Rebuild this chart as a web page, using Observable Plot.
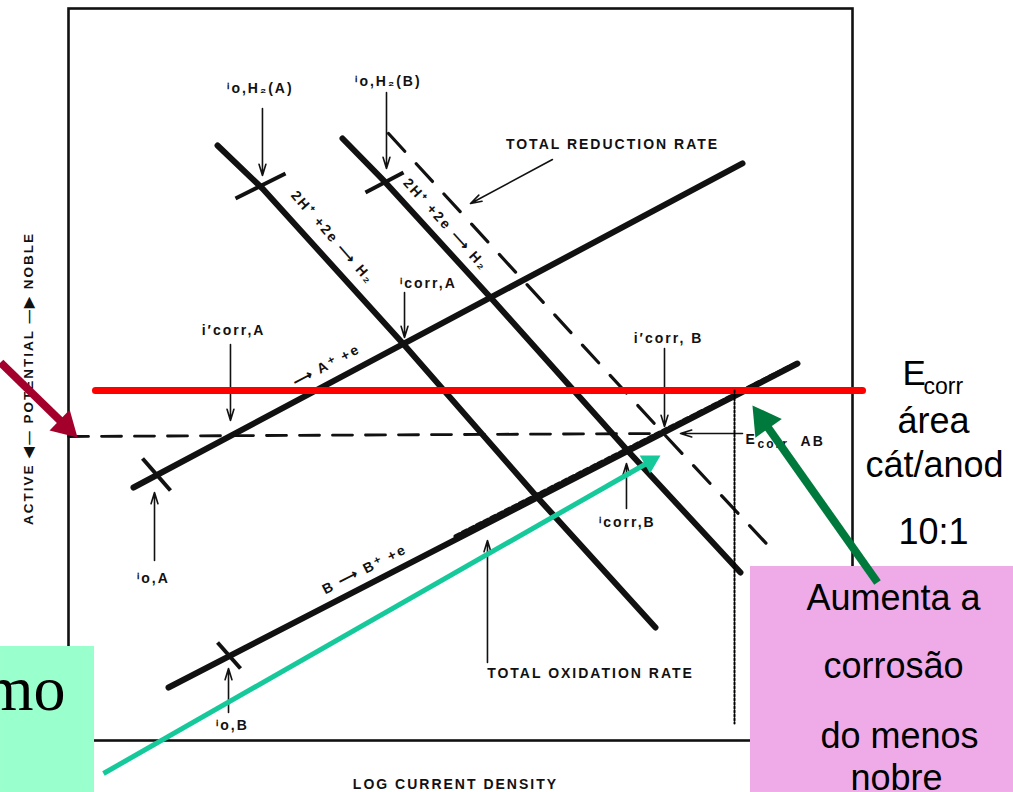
<!DOCTYPE html>
<html><head><meta charset="utf-8">
<script src="https://cdn.jsdelivr.net/npm/d3@7"></script>
<script src="https://cdn.jsdelivr.net/npm/@observablehq/plot@0.6"></script>
<style>
html,body{margin:0;padding:0;background:#fff;}
</style></head><body><div id="chart"></div>
<script>
// ---------- data: x = log current density (decades across the frame), y = potential (arbitrary units) ----------
const h2OnA    = [[1.901,8.128],[2.474,7.541],[4.260,5.430],[5.982,3.320],[7.487,1.544]];
const h2OnB    = [[3.495,8.224],[4.031,7.637],[5.383,6.052],[7.130,3.962],[8.571,2.295]];
const oxA      = [[0.829,3.456],[8.597,7.883]];
const oxB      = [[1.276,0.724],[9.298,5.150]];
const totalRed = [[4.082,8.292],[7.589,4.194],[9.043,2.527]];
const totalOx  = [[4.936,2.790],[9.298,5.164]];
const ecorrAB  = [[0,4.153],[7.589,4.194]];
const ioTicks  = [[[2.130,7.404],[2.768,7.746]],[[3.788,7.486],[4.273,7.760]],[[0.944,3.852],[1.301,3.415]],[[1.901,1.339],[2.194,0.984]]];

const pointerFrom = [[2.474,8.634],[4.056,8.852],[4.286,6.120],[2.066,5.410],[6.173,7.937],[7.602,5.355],[8.597,4.194],[7.117,3.169],[1.097,2.459],[2.041,0.383],[5.344,1.066]];
const pointerTo   = [[2.474,7.719],[4.056,7.814],[4.286,5.505],[2.066,4.372],[5.128,7.336],[7.602,4.290],[7.806,4.194],[7.117,3.784],[1.097,3.388],[2.041,0.984],[5.344,2.732]];

const figLabels = ["ⁱo,H₂(A)","ⁱo,H₂(B)","ⁱcorr,A","i′corr,A","TOTAL REDUCTION RATE","i′corr, B","ⁱcorr,B","ⁱo,A","ⁱo,B","TOTAL OXIDATION RATE","LOG CURRENT DENSITY"];
const figLabelX = [2.449,4.082,4.592,2.105,6.939,7.653,7.130,1.084,2.092,6.658,4.936];
const figLabelY = [8.839,8.948,6.175,5.533,8.087,5.437,2.910,2.145,0.137,0.847,-0.656];

const reactionText  = ["2H⁺ +2e ⟶ H₂","2H⁺ +2e ⟶ H₂","⟶ A⁺ +e","B ⟶ B⁺ +e"];
const reactionX     = [3.367,4.809,3.291,3.776];
const reactionY     = [6.872,7.049,5.123,2.336];
const reactionAngle = [49,48,-28,-27];

const axisCaption = ["ACTIVE ◀— POTENTIAL —▶ NOBLE"];
const axisCaptionPos = [-0.510,4.945];

const ecorrText = ["E","corr","AB"];
const ecorrTextX = [8.635,8.788,9.337];
const ecorrTextY = [4.057,3.990,4.030];

// overlay annotations
const ecorrAreaLine = [[0.344,4.781],[10.128,4.781]];
const dottedLine    = [[8.495,4.781],[8.495,0.232]];
const darkRedArrow  = [[-0.867,5.164],[0.115,4.139]];
const tealArrow     = [[0.446,-0.451],[7.551,3.893]];
const greenArrow    = [[10.319,2.158],[8.724,4.577]];
const mintBox = [{x1:-0.867,x2:0.332,y1:-0.710,y2:1.284}];
const pinkBox = [{x1:8.699,x2:12.054,y1:-0.710,y2:2.377}];

const mintText = ["mo"]; const mintTextPos = [-0.038,0.410];
const sideHead = ["E","corr"]; const sideHeadX = [10.638,10.906]; const sideHeadY = [4.850,4.727];
const sideNote = ["área","cát/anod","10:1"]; const sideNoteX = [11.033,11.046,11.033]; const sideNoteY = [4.194,3.593,2.691];
const boxNote = ["Aumenta a","corrosão","do menos","nobre"]; const boxNoteX = [10.523,10.523,10.599,10.561]; const boxNoteY = [1.776,0.847,-0.096,-0.683];

// ---------- layout ----------
const W = 1013, H = 792, ML = 68, MR = 161, MT = 8, MB = 52;
const kx = (W - ML - MR) / 10, ky = (H - MT - MB) / 10;
const FIG = "Liberation Sans, Arial, sans-serif";
const ink = "#111";

const line = (pts, o) => Plot.line(pts, {x: d => d[0], y: d => d[1], ...o});

function accent(pts, color, width, len) {
  const [a, b] = pts;
  const dx = (b[0] - a[0]) * kx, dy = -(b[1] - a[1]) * ky;
  const L = Math.hypot(dx, dy), ux = dx / L, uy = dy / L;
  const s = len / 3, r = s / Math.sqrt(Math.PI / (3 * Math.sqrt(3)));
  const h = {cx: b[0] - ux * 2 * s / kx, cy: b[1] + uy * 2 * s / ky, rot: Math.atan2(ux, -uy) * 180 / Math.PI};
  return [
    Plot.link([0], {x1: () => a[0], y1: () => a[1], x2: () => h.cx, y2: () => h.cy, stroke: color, strokeWidth: width}),
    Plot.dot([h], {x: "cx", y: "cy", r, rotate: "rot", symbol: "triangle", fill: color, stroke: "none"})
  ];
}

const chart = Plot.plot({
  width: W, height: H, marginLeft: ML, marginRight: MR, marginTop: MT, marginBottom: MB,
  x: {domain: [0, 10], axis: null},
  y: {domain: [0, 10], axis: null},
  style: {background: "white", overflow: "visible"},
  marks: [
    Plot.frame({stroke: ink, strokeWidth: 2.6}),
    line(ecorrAB, {stroke: ink, strokeWidth: 2.8, strokeDasharray: "20 13"}),
    line(totalRed, {stroke: ink, strokeWidth: 3.2, strokeDasharray: "24 17"}),
    line(h2OnA, {stroke: ink, strokeWidth: 6}),
    line(h2OnB, {stroke: ink, strokeWidth: 6}),
    line(oxA, {stroke: ink, strokeWidth: 6}),
    line(oxB, {stroke: ink, strokeWidth: 6}),
    line(totalOx, {stroke: ink, strokeWidth: 4, strokeDasharray: "5 3"}),
    Plot.link(ioTicks, {x1: d => d[0][0], y1: d => d[0][1], x2: d => d[1][0], y2: d => d[1][1], stroke: ink, strokeWidth: 4}),
    Plot.arrow(pointerFrom, {x1: d => d[0], y1: d => d[1], x2: (d, i) => pointerTo[i][0], y2: (d, i) => pointerTo[i][1],
      stroke: ink, strokeWidth: 1.6, headLength: 11, headAngle: 34}),
    Plot.text(figLabels, {x: (d, i) => figLabelX[i], y: (d, i) => figLabelY[i], text: d => d, fontFamily: FIG, fontWeight: "bold",
      fontSize: 14, lineAnchor: "bottom", textAnchor: "middle", fill: ink}),
    Plot.text(reactionText, {x: (d, i) => reactionX[i], y: (d, i) => reactionY[i], rotate: (d, i) => reactionAngle[i], text: d => d,
      fontFamily: FIG, fontWeight: "bold", fontSize: 14, lineAnchor: "middle", textAnchor: "middle", fill: ink}),
    Plot.text(ecorrText, {x: (d, i) => ecorrTextX[i], y: (d, i) => ecorrTextY[i], text: d => d, fontFamily: FIG, fontWeight: "bold",
      fontSize: (d, i) => i === 1 ? 12 : 14, lineAnchor: "bottom", textAnchor: "start", fill: ink}),
    Plot.text(axisCaption, {x: () => axisCaptionPos[0], y: () => axisCaptionPos[1], text: d => d, rotate: -90, fontFamily: FIG,
      fontWeight: "bold", fontSize: 13.5, lineAnchor: "middle", textAnchor: "middle", fill: ink}),
    // overlays
    line(ecorrAreaLine, {stroke: "#FF0000", strokeWidth: 7}),
    line(dottedLine, {stroke: "#000", strokeWidth: 2, strokeDasharray: "2 2"}),
    Plot.rect(mintBox, {x1: "x1", x2: "x2", y1: "y1", y2: "y2", fill: "#99FFCC"}),
    Plot.rect(pinkBox, {x1: "x1", x2: "x2", y1: "y1", y2: "y2", fill: "#EEABE8"}),
    ...accent(tealArrow, "#16C99A", 5, 18),
    ...accent(darkRedArrow, "#A3002B", 8, 25),
    ...accent(greenArrow, "#007A3C", 8, 28),
    Plot.text(mintText, {x: () => mintTextPos[0], y: () => mintTextPos[1], text: d => d, fontFamily: "Liberation Serif, Times New Roman, serif",
      fontSize: 64, lineAnchor: "bottom", textAnchor: "end", fill: "#000"}),
    Plot.text(sideHead, {x: (d, i) => sideHeadX[i], y: (d, i) => sideHeadY[i], text: d => d, fontFamily: FIG,
      fontSize: (d, i) => i === 0 ? 35 : 23, lineAnchor: "bottom", textAnchor: "start", fill: "#000"}),
    Plot.text(sideNote, {x: (d, i) => sideNoteX[i], y: (d, i) => sideNoteY[i], text: d => d, fontFamily: FIG,
      fontSize: 36, lineAnchor: "bottom", textAnchor: "middle", fill: "#000"}),
    Plot.text(boxNote, {x: (d, i) => boxNoteX[i], y: (d, i) => boxNoteY[i], text: d => d, fontFamily: FIG,
      fontSize: 36, lineAnchor: "bottom", textAnchor: "middle", fill: "#000"})
  ]
});
// the scanned figure uses widely tracked bold capitals
chart.querySelectorAll('g[font-weight="bold"] text').forEach(t => t.style.letterSpacing = "2px");
document.getElementById("chart").appendChild(chart);
</script></body></html>
